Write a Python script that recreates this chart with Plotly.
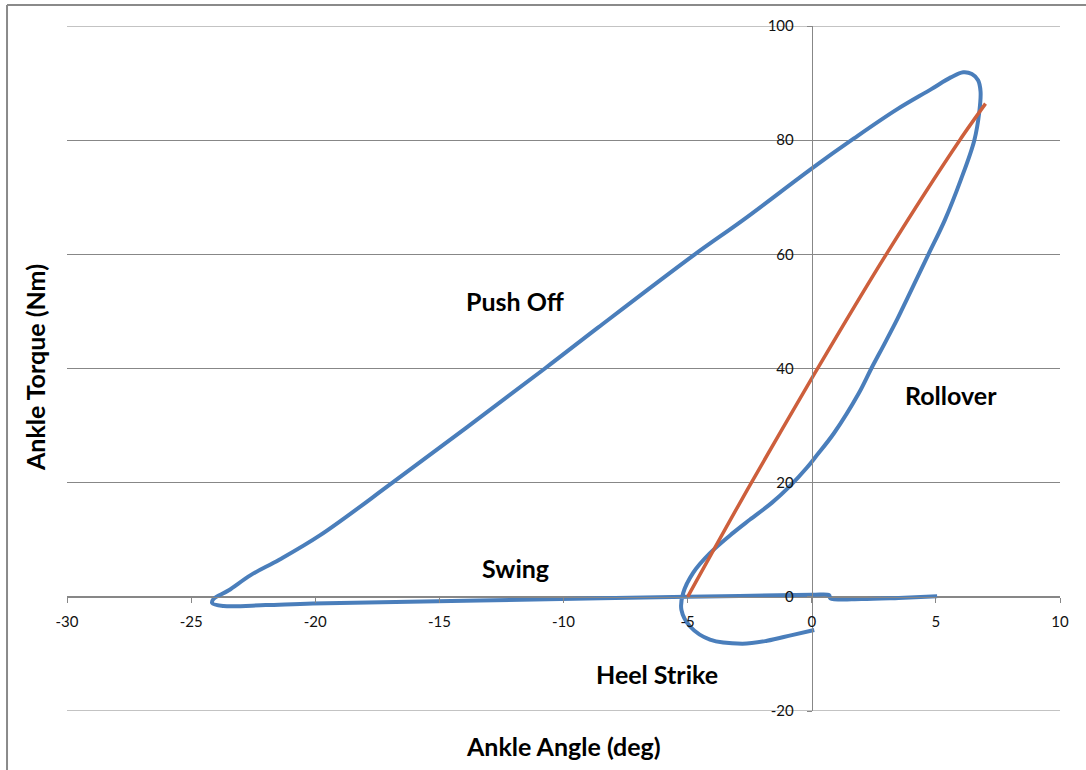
import plotly.graph_objects as go

# Blue curve: ankle angle (deg) vs ankle torque (Nm), in gait order
angle = [0.1, -0.8, -1.8, -2.8, -4.1, -4.9, -5.25, -5.18, -4.78, -4.1, -3.17, -2.5,
         -1.6, -0.9, -0.2, 0.15, 0.9, 1.9, 2.4, 2.95, 3.45, 3.85, 4.7, 5.36, 6.0,
         6.55, 6.75, 6.8, 6.7, 6.45, 6.1, 5.6, 4.8, 3.4, 1.7, 0.05, -2.77, -4.71, -8.6,
         -10.75, -16.89, -19.8, -21.45, -22.6, -23.5, -24.1, -24.15, -23.7, -22.0,
         -20.1, -13.4, -8.5, -5.0, 0.0, 0.7, 0.75, 2.0, 3.5, 5.05]
torque = [-5.8, -6.7, -7.7, -8.2, -7.5, -5.2, -2.3, 0.65, 4.2, 7.65, 11.2, 13.5,
          16.5, 19.3, 22.6, 24.5, 28.7, 35.7, 40.0, 44.5, 48.7, 52.3, 60.0, 66.0, 73.0,
          80.0, 85.0, 88.5, 90.5, 91.6, 91.9, 91.0, 88.9, 85.3, 80.3, 75.2, 66.0, 60.0, 47.2,
          40.0, 20.0, 10.8, 6.5, 3.8, 1.1, -0.4, -1.1, -1.6, -1.45,
          -1.15, -0.65, -0.25, 0.0, 0.35, 0.3, -0.25, -0.4, -0.2, 0.1]

# Orange line (rollover stiffness)
fit_angle = [-5.0, -2.5, 0.1, 3.0, 5.96, 7.0]
fit_torque = [0.0, 19.5, 39.0, 60.0, 80.0, 86.4]

x_ticks = [-30, -25, -20, -15, -10, -5, 0, 5, 10]
x_tick_labels = ["-30", "-25", "-20", "-15", "-10", "-5", "0", "5", "10"]
y_ticks = [-20, 0, 20, 40, 60, 80, 100]
y_tick_labels = ["-20", "0", "20", "40", "60", "80", "100"]

phase_labels = ["Push Off", "Rollover", "Swing", "Heel Strike"]
phase_x = [-11.96, 5.6, -11.92, -6.24]
phase_y = [51.9, 35.4, 5.1, -13.5]

FONT = "Lato"
GRID = "#878787"
LABEL_SIZE = 25

fig = go.Figure()
fig.add_trace(go.Scatter(x=angle, y=torque, mode="lines",
                         line=dict(color="#4A7EBB", width=4, shape="spline", smoothing=1.0),
                         showlegend=False, hoverinfo="skip"))
fig.add_trace(go.Scatter(x=fit_angle, y=fit_torque, mode="lines",
                         line=dict(color="#CD5F3C", width=3.5, shape="spline", smoothing=0.8),
                         showlegend=False, hoverinfo="skip"))

for t, xv, yv in zip(phase_labels, phase_x, phase_y):
    fig.add_annotation(x=xv, y=yv, xref="x", yref="y", text="<b>%s</b>" % t,
                       xanchor="center", yanchor="middle",
                       showarrow=False, font=dict(family=FONT, size=LABEL_SIZE, color="#000000"))

fig.add_annotation(x=0.5, y=-0.0511, xref="paper", yref="paper", text="<b>Ankle Angle (deg)</b>",
                   xanchor="center", yanchor="middle",
                   showarrow=False, font=dict(family=FONT, size=LABEL_SIZE, color="#000000"))
fig.add_annotation(x=-0.0322, y=0.5007, xref="paper", yref="paper", text="<b>Ankle Torque (Nm)</b>",
                   xanchor="center", yanchor="middle",
                   textangle=-90, showarrow=False, font=dict(family=FONT, size=LABEL_SIZE, color="#000000"))

# edge gridlines (bottom and top of the value axis)
for yv in (y_ticks[0], y_ticks[-1]):
    fig.add_shape(type="line", xref="paper", yref="y", x0=0, x1=1, y0=yv, y1=yv,
                  line=dict(color=GRID, width=1), layer="below")

# chart-area border (left and top edges visible)
fig.add_shape(type="line", xref="paper", yref="paper", x0=-0.0604, x1=-0.0604, y0=-0.1, y1=1.0307,
              line=dict(color="#8a8a8a", width=2))
fig.add_shape(type="line", xref="paper", yref="paper", x0=-0.0604, x1=1.03, y0=1.0307, y1=1.0307,
              line=dict(color="#8a8a8a", width=2))

fig.update_layout(
    width=1086, height=770,
    margin=dict(l=67, r=26, t=26, b=59),
    paper_bgcolor="white", plot_bgcolor="white",
    xaxis=dict(range=[-30, 10], tickvals=x_ticks, ticktext=x_tick_labels, anchor="free",
               position=20 / 120,
               showline=True, linecolor=GRID, linewidth=1, ticks="outside", ticklen=5,
               tickcolor=GRID, showgrid=False, zeroline=False, ticklabelstandoff=6,
               tickfont=dict(family=FONT, size=15, color="#111111")),
    yaxis=dict(range=[-20, 100], tickvals=y_ticks, ticktext=y_tick_labels, anchor="free",
               position=0.75,
               showline=True, linecolor=GRID, linewidth=1, ticks="outside", ticklen=5,
               tickcolor=GRID, showgrid=True, gridcolor=GRID, gridwidth=1, zeroline=False,
               ticklabelstandoff=10, tickfont=dict(family=FONT, size=15, color="#111111")),
)

fig.write_html("out.html", config={"displayModeBar": False},
               post_script="document.body.style.margin='0';document.body.style.overflow='hidden';")
